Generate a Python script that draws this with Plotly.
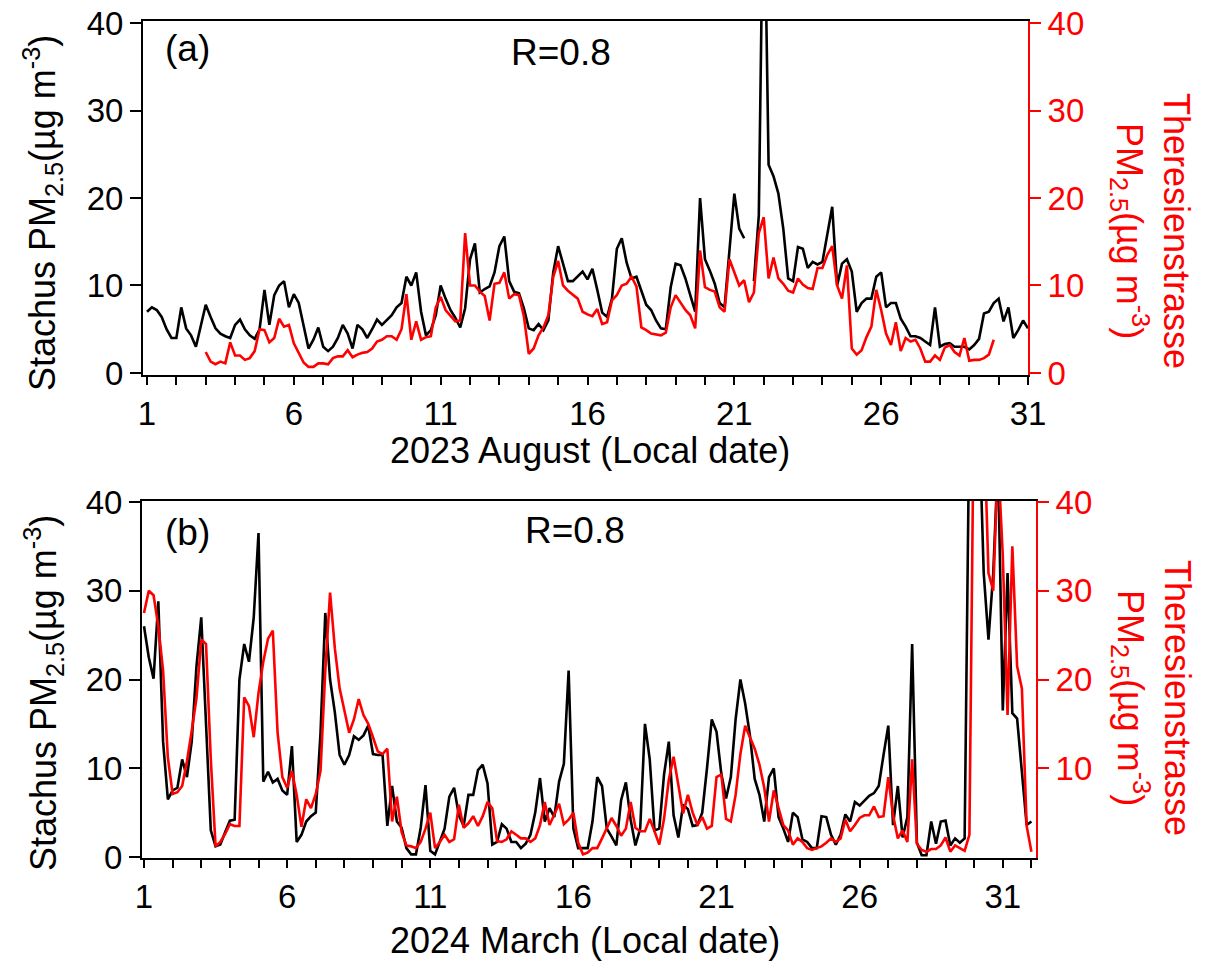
import plotly.graph_objects as go

# ---------------- data (4-hourly samples, day of month) ----------------
start_day = 1.0
step_day = 1.0 / 6.0

aug_stachus = [
    7.0, 7.5, 7.2, 6.4, 5.0, 4.0, 4.0, 7.5, 5.1, 4.3, 3.0, 5.5, 7.8, 6.4, 5.1, 4.5, 4.2, 4.0,
    5.5, 6.1, 5.0, 4.3, 3.9, 5.0, 9.5, 5.5, 8.9, 10.0, 10.5, 7.5, 9.0, 8.0, 5.5, 2.8, 3.8, 5.2,
    3.0, 2.5, 3.0, 4.0, 5.5, 4.5, 2.8, 5.5, 5.0, 4.0,
    5.0, 6.1, 5.5, 6.1, 6.6, 7.5, 8.0, 11.0, 10.0, 11.5, 7.0, 4.3, 4.9, 6.6, 10.0, 8.5, 7.2, 6.3,
    5.2, 7.4, 13.0, 14.8, 9.2, 9.6, 9.9, 11.5, 14.5, 15.6, 10.5, 9.3, 9.1, 7.4, 5.1, 4.9, 5.6, 4.9,
    6.0, 11.5, 14.5, 12.5, 10.5, 10.5, 11.0, 11.6, 10.7, 11.9, 9.5,
    6.9, 6.4, 8.5, 14.2, 15.4, 12.6, 10.8, 11.0, 9.3, 7.8, 7.2, 6.0, 5.1, 5.0, 9.8, 12.5, 12.3, 10.8,
    8.9, 7.0, 20.0, 13.0, 11.7, 10.2, 8.0, 7.5, 14.0, 20.5, 16.5, 15.4, None, 10.5, 18.0, 60.0, 23.8, 22.5,
    20.5, 16.5, 10.8, 10.5, 14.4, 14.2, 12.0, 12.7, 12.4, 12.7, 16.0,
    19.0, 10.0, 12.5, 13.0, 11.6, 7.0, 8.0, 8.5, 8.5, 11.0, 11.5, 7.5, 8.0, 8.0, 6.2, 5.3, 4.2, 4.2,
    4.0, 3.6, 3.2, 7.5, 3.0, 3.3, 3.4, 3.0, 3.0, 3.0, 2.7, 3.2, 3.9, 6.8, 7.0, 8.0, 8.5, 5.9,
    7.5, 4.0, 4.9, 6.0, 5.1,
]

aug_theresien = [None] * 12 + [
    2.4, 1.3, 1.0, 1.3, 1.1, 3.5, 2.0, 2.0, 1.5, 1.7, 2.5, 5.0, 4.9, 3.5, 4.0, 6.2, 5.3, 5.5,
    3.4, 2.3, 1.2, 0.7, 0.7, 1.1, 1.1, 1.0, 1.7, 1.9, 1.9, 2.6, 1.8, 2.1, 2.3, 2.4,
    2.8, 3.6, 3.8, 4.2, 4.2, 3.8, 5.0, 9.0, 3.8, 5.9, 3.8, 4.1, 4.2, 7.5, 8.7, 7.2, 6.5, 5.9,
    6.0, 16.0, 10.0, 10.0, 9.3, 8.8, 6.0, 10.2, 10.3, 11.5, 8.5, 9.0, 8.9, 6.5, 2.2, 2.8, 4.3, 5.2,
    6.6, 11.0, 12.8, 10.0, 9.4, 9.0, 8.5, 7.0, 6.7, 6.5, 7.3,
    5.6, 5.8, 8.3, 8.9, 10.0, 10.2, 11.0, 9.9, 5.2, 4.9, 4.5, 4.4, 4.3, 4.6, 7.5, 8.9, 8.0, 7.2,
    6.6, 5.1, 14.0, 9.8, 9.5, 9.3, 7.5, 7.0, 13.0, 11.5, 10.0, 10.6, 8.1, 9.2, 16.0, 17.8, 10.8, 13.2,
    10.8, 10.2, 9.4, 9.2, 10.8, 10.1, 9.7, 9.6, 12.0, 12.0, 13.5,
    14.5, 10.0, 8.5, 12.3, 2.8, 2.1, 2.6, 4.1, 5.3, 9.5, 7.2, 4.5, 3.2, 5.8, 2.5, 4.0, 3.6, 3.8,
    2.8, 1.3, 1.3, 2.0, 1.5, 2.9, 3.2, 2.4, 2.0, 4.0, 1.4, 1.5, 1.5, 1.7, 2.1, 3.8,
] + [None] * 7

mar_stachus = [
    26.0, 22.5, 20.1, 28.8, 13.0, 6.5, 7.5, 7.8, 11.0, 9.0, 13.0, 21.5, 27.0, 15.0, 3.0, 1.2, 1.4, 2.8,
    4.1, 4.2, 20.0, 24.0, 22.0, 27.0, 36.5, 8.5, 9.6, 8.4, 8.8, 7.5, 7.0, 12.5, 1.7, 2.5, 4.0, 4.6,
    5.0, 14.0, 27.5, 20.0, 16.3, 11.5, 10.4, 11.5, 13.6, 13.2, 13.7, 14.8,
    11.6, 11.5, 11.5, 3.5, 8.0, 4.0, 3.3, 1.0, 0.3, 0.3, 3.3, 8.1, 0.7, 0.3, 1.7, 3.2, 6.8, 7.8,
    4.7, 3.5, 7.0, 7.0, 9.8, 10.4, 8.3, 1.4, 1.7, 3.7, 3.2, 1.7, 1.7, 1.0, 1.5, 2.5, 5.0, 8.9,
    4.0, 5.5, 4.5, 8.5, 10.5, 21.0, 3.2, 1.0, 1.0, 1.0, 4.0, 9.0,
    8.0, 3.2, 2.3, 1.3, 6.4, 8.4, 4.2, 1.3, 3.2, 15.0, 11.0, 3.0, 3.2, 9.3, 13.0, 4.7, 2.2, 5.9,
    5.4, 3.5, 3.6, 5.0, 10.0, 15.5, 14.1, 9.4, 6.6, 9.0, 15.5, 20.0, 17.3, 13.7, 8.8, 7.0, 4.0, 9.0,
    10.0, 4.5, 3.2, 1.7, 5.0, 4.5, 2.0, 1.7, 1.0, 1.0, 4.6, 4.5,
    2.5, 1.4, 2.5, 4.8, 4.0, 6.2, 5.8, 6.3, 6.9, 7.2, 8.0, 11.5, 14.8, 3.6, 8.0, 2.2, 4.5, 24.0,
    1.6, 0.2, 0.2, 4.0, 1.5, 4.0, 4.1, 1.3, 2.1, 1.6, 2.1, 50.0, 55.0, 50.0, 32.0, 24.5, 32.0, 45.0,
    16.5, 32.0, 16.2, 15.6, 10.0, 3.6, 4.0,
]

mar_theresien = [
    27.5, 30.0, 29.5, 26.0, 21.0, 11.2, 7.1, 7.3, 8.0, 10.8, 14.2, 17.9, 24.5, 24.0, 11.0, 1.2, 1.7, 2.6,
    3.7, 3.5, 3.5, 18.0, 17.0, 13.5, 18.5, 22.0, 24.6, 25.5, 14.0, 9.0, 7.8, 9.7, 7.0, 3.4, 6.5, 5.5,
    7.1, 9.7, 21.0, 29.8, 23.5, 19.0, 16.5, 14.0, 15.5, 17.8, 16.0, 15.0,
    13.5, 11.9, 11.6, 12.2, 4.0, 6.8, 2.8, 1.3, 1.2, 1.0, 1.7, 3.2, 5.0, 1.0, 1.7, 2.5, 1.7, 2.0,
    5.9, 3.3, 3.8, 4.6, 3.5, 4.6, 6.2, 5.5, 1.8, 1.7, 2.0, 2.9, 2.5, 2.1, 2.1, 1.7, 2.1, 3.6,
    6.2, 3.6, 4.8, 6.0, 3.7, 4.2, 5.0, 1.6, 0.3, 0.5, 1.0, 1.0,
    2.1, 3.2, 4.4, 3.5, 2.4, 3.2, 6.2, 3.3, 2.9, 2.9, 4.3, 2.9, 1.4, 4.3, 8.7, 11.3, 8.0, 4.9,
    7.0, 5.0, 3.6, 4.5, 3.2, 3.5, 9.0, 9.3, 4.3, 4.0, 7.0, 11.6, 14.8, 13.4, 12.2, 10.4, 7.8, 4.0,
    7.5, 5.5, 3.6, 3.0, 1.4, 2.1, 1.7, 1.0, 0.8, 1.0, 1.2, 1.6,
    2.1, 1.7, 2.1, 4.2, 2.9, 3.6, 4.4, 4.7, 4.7, 5.7, 4.5, 4.6, 9.0, 4.7, 2.1, 3.0, 1.7, 11.0,
    1.5, 0.8, 0.6, 0.9, 0.9, 1.3, 2.2, 0.6, 1.3, 1.0, 0.7, 2.5, 55.0, 60.0, 50.0, 32.0, 30.0, 45.0,
    34.0, 16.0, 35.0, 21.5, 19.0, 3.5, 0.6,
]

x_ticks = [1, 6, 11, 16, 21, 26, 31]
y_ticks = [0, 10, 20, 30, 40]
y_ticks_b_right = [10, 20, 30, 40]

t_aug = [start_day + i * step_day for i in range(len(aug_stachus))]
t_mar = [start_day + i * step_day for i in range(len(mar_stachus))]

# ---------------- figure ----------------
# The page body adds an 8 px margin; size the figure so it fills the 1210x972 window exactly.
PAGE_MARGIN = 8
W, H = 1210 - 2 * PAGE_MARGIN, 972 - 2 * PAGE_MARGIN
FONT = "Liberation Sans, Arial, sans-serif"
RED = "#ff0000"

def px_x(p):
    return (p - PAGE_MARGIN) / W

def px_y(p):
    return 1 - (p - PAGE_MARGIN) / H

fig = go.Figure()
fig.add_trace(go.Scatter(x=t_aug, y=aug_stachus, mode="lines", line=dict(color="black", width=2.6),
                         xaxis="x", yaxis="y", connectgaps=False, showlegend=False))
fig.add_trace(go.Scatter(x=t_aug, y=aug_theresien, mode="lines", line=dict(color=RED, width=2.6),
                         xaxis="x", yaxis="y2", connectgaps=False, showlegend=False))
fig.add_trace(go.Scatter(x=t_mar, y=mar_stachus, mode="lines", line=dict(color="black", width=2.6),
                         xaxis="x2", yaxis="y3", showlegend=False))
fig.add_trace(go.Scatter(x=t_mar, y=mar_theresien, mode="lines", line=dict(color=RED, width=2.6),
                         xaxis="x2", yaxis="y4", showlegend=False))

tick_font = dict(family=FONT, size=33, color="black")
red_tick_font = dict(family=FONT, size=33, color=RED)

xcommon = dict(tickmode="array", tickvals=x_ticks, ticks="outside", ticklen=8, tickwidth=2,
               tickcolor="black", showline=True, linewidth=2, linecolor="black", mirror=True,
               showgrid=False, zeroline=False, tickfont=tick_font, automargin=False,
               ticklabeloverflow="allow",
               minor=dict(dtick=1, tick0=1, ticks="outside", ticklen=8, tickwidth=2, tickcolor="black"))
ycommon = dict(ticks="outside", ticklen=11, tickwidth=2, showline=True, linewidth=2,
               showgrid=False, zeroline=False, automargin=False, ticklabeloverflow="allow")

fig.update_layout(
    width=W, height=H, margin=dict(l=0, r=0, t=0, b=0, autoexpand=False),
    paper_bgcolor="white", plot_bgcolor="white",
    font=dict(family=FONT, size=33, color="black"),
    xaxis=dict(domain=[px_x(143), px_x(1028)], range=[0.864, 31.0], anchor="y", **xcommon),
    yaxis=dict(domain=[px_y(375), px_y(21)], range=[-0.23, 40.23], anchor="x",
               tickvals=y_ticks, linecolor="black", tickcolor="black", tickfont=tick_font, **ycommon),
    yaxis2=dict(overlaying="y", side="right", range=[-0.23, 40.23], anchor="x",
                tickvals=y_ticks, linecolor=RED, tickcolor=RED, tickfont=red_tick_font, **ycommon),
    xaxis2=dict(domain=[px_x(142), px_x(1036)], range=[0.93, 32.16], anchor="y3", **xcommon),
    yaxis3=dict(domain=[px_y(858), px_y(501)], range=[-0.11, 40.11], anchor="x2",
                tickvals=y_ticks, linecolor="black", tickcolor="black", tickfont=tick_font, **ycommon),
    yaxis4=dict(overlaying="y3", side="right", range=[-0.11, 40.11], anchor="x2",
                tickvals=y_ticks_b_right, linecolor=RED, tickcolor=RED, tickfont=red_tick_font, **ycommon),
)

left_title = "Stachus PM<sub>2.5</sub>(µg m<sup>-3</sup>)"
right_title = "Theresienstrasse<br>PM<sub>2.5</sub>(µg m<sup>-3</sup>)"

annots = [
    dict(text="(a)", x=px_x(187), y=px_y(48)),
    dict(text="R=0.8", x=px_x(561), y=px_y(53)),
    dict(text="(b)", x=px_x(187), y=px_y(532)),
    dict(text="R=0.8", x=px_x(575), y=px_y(530)),
]
out = []
for a in annots:
    out.append(dict(xref="paper", yref="paper", showarrow=False, xanchor="center", yanchor="middle",
                    font=dict(family=FONT, size=37, color="black"), **a))

for (x, y, txt) in [(43, 213, left_title), (43, 693, left_title)]:
    out.append(dict(xref="paper", yref="paper", x=px_x(x), y=px_y(y), text=txt, textangle=-90,
                    showarrow=False, xanchor="center", yanchor="middle",
                    font=dict(family=FONT, size=36, color="black")))
for (x, y) in [(1151, 231), (1152, 698)]:
    out.append(dict(xref="paper", yref="paper", x=px_x(x), y=px_y(y), text=right_title, textangle=90,
                    showarrow=False, xanchor="center", yanchor="middle",
                    font=dict(family=FONT, size=36, color=RED)))
for (x, y, txt) in [(590, 451, "2023 August (Local date)"), (585, 940, "2024 March (Local date)")]:
    out.append(dict(xref="paper", yref="paper", x=px_x(x), y=px_y(y), text=txt, showarrow=False,
                    xanchor="center", yanchor="middle", font=dict(family=FONT, size=36, color="black")))

fig.update_layout(annotations=out)
fig.write_html("out.html")
